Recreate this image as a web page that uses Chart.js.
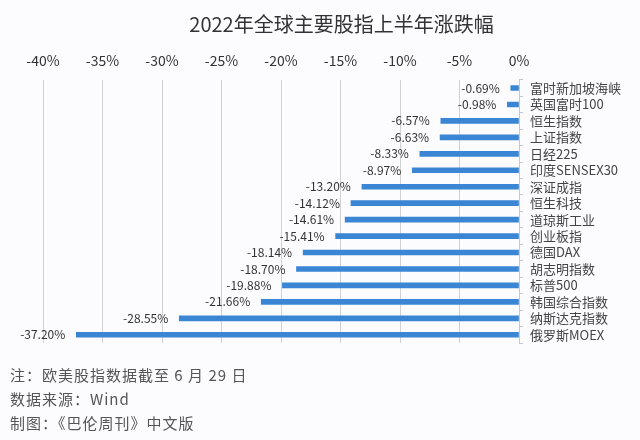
<!DOCTYPE html>
<html>
<head>
<meta charset="utf-8">
<script src="https://cdn.jsdelivr.net/npm/chart.js@4"></script>
<style>
  body { margin: 0; background: #fcfcfe; }
  #wrap { position: relative; width: 640px; height: 440px; }
  #notes { position: absolute; left: 10px; top: 363px; font: 15px "Noto Sans CJK SC", sans-serif; color: #555; line-height: 24px; letter-spacing: 1px; }
</style>
</head>
<body>
<div id="wrap">
  <canvas id="chart" width="640" height="440"></canvas>
  <div id="notes">
    <div>注：欧美股指数据截至 6 月 29 日</div>
    <div>数据来源：Wind</div>
    <div>制图：《巴伦周刊》中文版</div>
  </div>
</div>
<script>
const indexNames = ['富时新加坡海峡', '英国富时100', '恒生指数', '上证指数', '日经225', '印度SENSEX30',
  '深证成指', '恒生科技', '道琼斯工业', '创业板指', '德国DAX', '胡志明指数', '标普500',
  '韩国综合指数', '纳斯达克指数', '俄罗斯MOEX'];
const changes = [-0.69, -0.98, -6.57, -6.63, -8.33, -8.97, -13.20, -14.12, -14.61, -15.41,
  -18.14, -18.70, -19.88, -21.66, -28.55, -37.20];
const xMin = -40;
const xMax = 0;
const xStep = 5;

const fontFamily = '"Noto Sans CJK SC", sans-serif';

// 在柱子末端左侧写数值
const valueLabels = {
  id: 'valueLabels',
  afterDatasetsDraw(chart) {
    const ctx = chart.ctx;
    const meta = chart.getDatasetMeta(0);
    ctx.save();
    ctx.font = '12px ' + fontFamily;
    ctx.fillStyle = '#333';
    ctx.textAlign = 'right';
    ctx.textBaseline = 'middle';
    meta.data.forEach((bar, i) => {
      ctx.fillText(changes[i].toFixed(2) + '%', bar.x - 11, bar.y);
    });
    ctx.restore();
  }
};

new Chart(document.getElementById('chart'), {
  type: 'bar',
  data: {
    labels: indexNames,
    datasets: [{
      data: changes,
      backgroundColor: '#3a86d4',
      barThickness: 5
    }]
  },
  options: {
    indexAxis: 'y',
    responsive: false,
    animation: false,
    layout: { padding: { left: 43, right: 0, bottom: 97 } },
    plugins: {
      legend: { display: false },
      tooltip: { enabled: false },
      title: {
        display: true,
        text: '2022年全球主要股指上半年涨跌幅',
        color: '#333',
        font: { family: fontFamily, size: 20, weight: 'normal' },
        padding: { top: 12, bottom: 5 }
      }
    },
    scales: {
      x: {
        position: 'top',
        min: xMin,
        max: xMax,
        ticks: {
          stepSize: xStep,
          color: '#333',
          font: { family: fontFamily, size: 14 },
          padding: 11,
          callback: v => v + '%'
        },
        grid: {
          drawTicks: false,
          color: ctx => ctx.tick && ctx.tick.value === 0 ? 'rgba(0,0,0,0)' : '#d2d2d2'
        },
        border: { display: false }
      },
      y: {
        position: 'right',
        afterFit: s => { s.width = 121; },
        ticks: {
          autoSkip: false,
          color: '#444',
          font: { family: fontFamily, size: 13 },
          padding: 7
        },
        grid: { drawOnChartArea: false, tickLength: 4, color: '#c4c8d0' },
        border: { color: '#c4c8d0' }
      }
    }
  },
  plugins: [valueLabels]
});
</script>
</body>
</html>
